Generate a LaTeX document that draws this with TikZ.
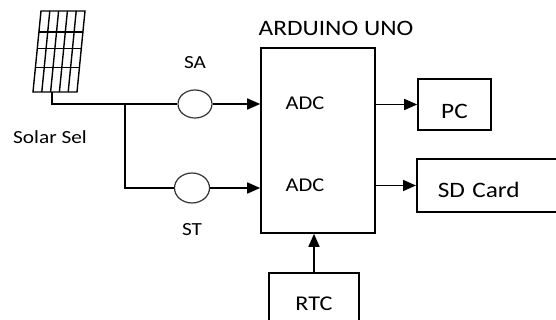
\documentclass[tikz,border=0pt]{standalone}
\usepackage{fontspec}
\setmainfont{Carlito}[FakeStretch=1.15]
\usetikzlibrary{calc}
\usetikzlibrary{arrows.meta,positioning,shapes.geometric}

\begin{document}
\begin{tikzpicture}[x=1pt, y=-1pt, line width=1.6pt,
                    font=\fontsize{22}{26}\selectfont]
      \useasboundingbox (0,0) rectangle (556,320);
      % styles
      \tikzstyle{box}=[rectangle,draw,inner sep=0pt]
      \tikzstyle{sensor}=[ellipse,draw,black!80,line width=1.2pt,inner sep=0pt,
                          minimum width=34pt,minimum height=28pt]
      \tikzstyle{lbl}=[inner sep=0pt,font=\fontsize{18.5}{22}\selectfont]
      \tikzstyle{adc}=[inner sep=0pt,font=\fontsize{19.5}{23}\selectfont]
      \tikzstyle{arr}=[-{Triangle[length=13pt,width=11pt]}]

      % solar panel
      \coordinate (ptl) at (41,11);
      \coordinate (ptr) at (85,11);
      \coordinate (pbl) at (33,92);
      \coordinate (pbr) at (77,92);
      \coordinate (pv)  at (52,92);
      \coordinate (jn)  at (125,104);
      \draw[line width=1.4pt] (ptl) -- (ptr) -- (pbr) -- (pbl) -- cycle;
      \foreach \t in {0.26,0.46,0.70}
        \draw[line width=1.4pt] ($(ptl)!\t!(pbl)$) -- ($(ptr)!\t!(pbr)$);
      \foreach \s in {0.2,0.4,0.6,0.8}
        \draw[line width=1.4pt] ($(ptl)!\s!(ptr)$) -- ($(pbl)!\s!(pbr)$);
      \node[lbl] (panel) at (50,137) {Solar Sel};

      % nodes
      \node[box,minimum width=114pt,minimum height=185pt] (ard) at (318,140.5) {};
      \node[inner sep=0pt] (ardlbl) at (336,28) {ARDUINO UNO};
      \node[adc] (adc1) at (305,103) {ADC};
      \node[adc] (adc2) at (305,185) {ADC};
      \node[sensor] (sa) at (195,104) {};
      \node[sensor,minimum width=35pt,minimum height=30pt] (st) at (192,188) {};
      \node[lbl,above=20pt of sa] (salbl) {SA};
      \node[lbl,below=19pt of st] (stlbl) {ST};
      \node[box,minimum width=73pt,minimum height=51pt,
            text height=28pt,text depth=0pt] (pc) at (454.5,104.5) {PC};
      \node[box,anchor=west,minimum height=53pt,text width=120pt,inner xsep=21pt,
            align=left,text height=25pt,text depth=0pt] (sd) at (416,185.5) {SD Card};
      \node[box,anchor=north,minimum width=90pt,minimum height=62pt,
            font=\fontsize{21}{25}\selectfont] (rtc) at (314,272) {RTC};

      % wires
      \draw (pv) |- (sa.west);
      \draw (jn) |- (st.west);

      % arrows
      \draw[arr] (sa.east) -- (sa.east -| ard.west);
      \draw[arr] (st.east) -- (st.east -| ard.west);
      \draw[arr] (ard.east |- pc.west) -- (pc.west);
      \draw[arr] (ard.east |- sd.west) -- (sd.west);
      \draw[arr] (rtc.north) -- (rtc.north |- ard.south);
\end{tikzpicture}
\end{document}
